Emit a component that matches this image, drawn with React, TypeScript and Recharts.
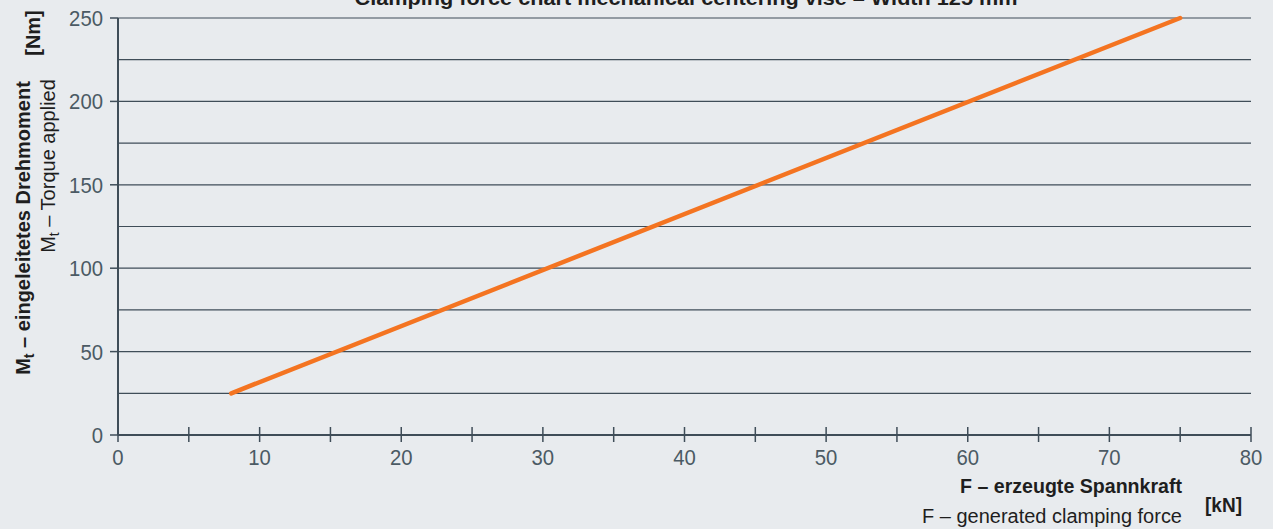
import React from "react";
import { LineChart, Line, XAxis, YAxis, CartesianGrid } from "recharts";

// Spannkraft F [kN] gegen eingeleitetes Drehmoment Mt [Nm]
const forceKN = [8, 75];
const torqueNm = [25, 250];

const xTicks = [0, 5, 10, 15, 20, 25, 30, 35, 40, 45, 50, 55, 60, 65, 70, 75, 80];
const yTicks = [0, 25, 50, 75, 100, 125, 150, 175, 200, 225, 250];

const chartData = forceKN.map((f, i) => ({ f, mt: torqueNm[i] }));

const BG = "#e8ebee";
const AXIS = "#3f4d58";
const TICK_TEXT = "#4b5a64";
const LABEL = "#1e1e1e";
const FONT = "'Liberation Sans', Arial, sans-serif";

// schmale Ziffern wie im Original
const digitsLen = (v: number) => String(v).length * 11.3;

const XTick = (props: any) => {
  const { x, y, payload } = props;
  const major = payload.value % 10 === 0;
  return (
    <g>
      <line x1={x} x2={x} y1={y - 8} y2={y + 7} stroke={AXIS} strokeWidth={1.5} />
      {major && (
        <text
          x={x}
          y={y + 30}
          textAnchor="middle"
          fill={TICK_TEXT}
          fontSize={22}
          fontFamily={FONT}
          textLength={digitsLen(payload.value)}
          lengthAdjust="spacingAndGlyphs"
        >
          {payload.value}
        </text>
      )}
    </g>
  );
};

const YTick = (props: any) => {
  const { x, y, payload } = props;
  if (payload.value % 50 !== 0) return <g />;
  return (
    <g>
      <line x1={x - 8} x2={x} y1={y} y2={y} stroke={AXIS} strokeWidth={1.5} />
      <text
        x={x - 15}
        y={y + 8}
        textAnchor="end"
        fill={TICK_TEXT}
        fontSize={22}
        fontFamily={FONT}
        textLength={digitsLen(payload.value)}
        lengthAdjust="spacingAndGlyphs"
      >
        {payload.value}
      </text>
    </g>
  );
};

export default function App() {
  return (
    <div style={{ position: "relative", width: 1273, height: 529, background: BG, overflow: "hidden" }}>
      <style>{"body{margin:0}"}</style>
      <LineChart
        width={1273}
        height={529}
        data={chartData}
        margin={{ top: 18, right: 22, bottom: 0, left: 0 }}
      >
        <CartesianGrid vertical={false} stroke={AXIS} strokeWidth={1.2} />
        <XAxis
          dataKey="f"
          type="number"
          domain={[0, 80]}
          ticks={xTicks}
          interval={0}
          axisLine={{ stroke: AXIS, strokeWidth: 2 }}
          tickLine={false}
          tickSize={0}
          tickMargin={0}
          tick={<XTick />}
          height={94}
        />
        <YAxis
          type="number"
          domain={[0, 250]}
          ticks={yTicks}
          interval={0}
          axisLine={{ stroke: AXIS, strokeWidth: 2 }}
          tickLine={false}
          tickSize={0}
          tickMargin={0}
          tick={<YTick />}
          width={118}
        />
        <Line
          type="linear"
          dataKey="mt"
          stroke="#f47421"
          strokeWidth={4.5}
          strokeLinecap="round"
          dot={false}
          isAnimationActive={false}
        />
      </LineChart>
      <svg
        width={1273}
        height={529}
        style={{ position: "absolute", left: 0, top: 0, pointerEvents: "none" }}
        fontFamily={FONT}
      >
        <text
          x={686}
          y={5}
          textAnchor="middle"
          fontSize={20}
          fontWeight="bold"
          fill={LABEL}
          textLength={663}
          lengthAdjust="spacingAndGlyphs"
        >
          Clamping force chart mechanical centering vise – Width 125 mm
        </text>
        <g transform="translate(30,228) rotate(-90)">
          <text textAnchor="middle" fontSize={20} fontWeight="bold" fill={LABEL}>
            M<tspan fontSize={14} dy={4}>t</tspan>
            <tspan dy={-4}> – eingeleitetes Drehmoment</tspan>
          </text>
        </g>
        <g transform="translate(55,166) rotate(-90)">
          <text textAnchor="middle" fontSize={20} fill={LABEL}>
            M<tspan fontSize={14} dy={4}>t</tspan>
            <tspan dy={-4}> – Torque applied</tspan>
          </text>
        </g>
        <g transform="translate(40,33) rotate(-90)">
          <text textAnchor="middle" fontSize={20} fontWeight="bold" fill={LABEL}>
            [Nm]
          </text>
        </g>
        <text
          x={1182}
          y={493}
          textAnchor="end"
          fontSize={20}
          fontWeight="bold"
          fill={LABEL}
          textLength={222}
          lengthAdjust="spacingAndGlyphs"
        >
          F – erzeugte Spannkraft
        </text>
        <text
          x={1182}
          y={523}
          textAnchor="end"
          fontSize={20}
          fill={LABEL}
          textLength={260}
          lengthAdjust="spacingAndGlyphs"
        >
          F – generated clamping force
        </text>
        <text
          x={1205}
          y={512}
          fontSize={20}
          fontWeight="bold"
          fill={LABEL}
          textLength={37}
          lengthAdjust="spacingAndGlyphs"
        >
          [kN]
        </text>
      </svg>
    </div>
  );
}
